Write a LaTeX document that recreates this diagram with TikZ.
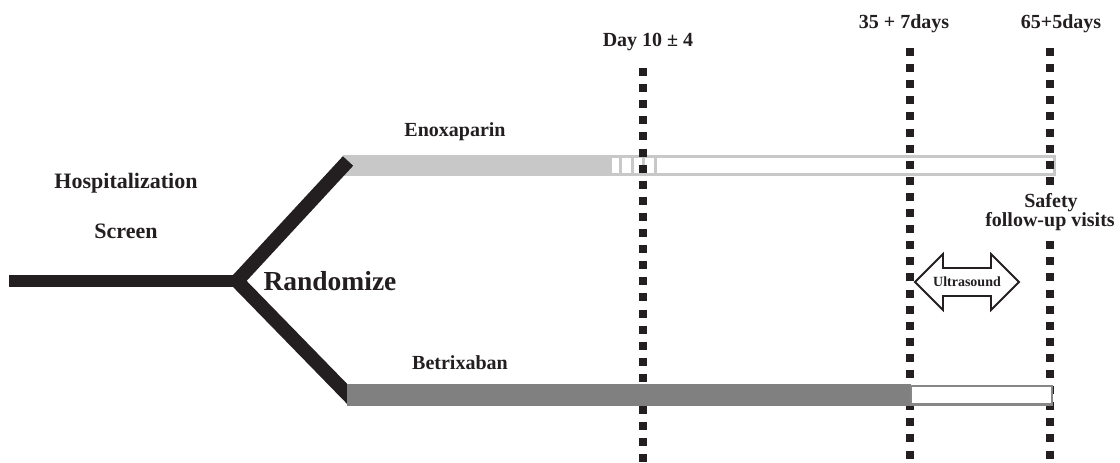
\documentclass[tikz,border=0pt]{standalone}
\usepackage{fontspec}
\setmainfont{Liberation Serif}
\definecolor{ink}{HTML}{231F20}
\definecolor{lightbar}{RGB}{200,200,200}
\definecolor{darkbar}{RGB}{128,128,128}
\definecolor{boxedge}{RGB}{135,135,135}
\tikzset{
  lbl/.style={anchor=base, inner sep=0pt, text=ink, font=\bfseries\fontsize{20}{22}\selectfont},
  biglbl/.style={lbl, font=\bfseries\fontsize{22}{24}\selectfont},
  trunk/.style={draw=ink, line width=12pt},
  branch/.style={draw=ink, line width=14pt, line join=miter},
  dotline/.style={draw=ink, line width=8pt, dash pattern=on 8pt off 8.1pt},
  usarrow/.style={draw=ink, fill=white, line width=1.8pt, line join=miter}
}
\begin{document}
\begin{tikzpicture}[x=1pt, y=-1pt]
\useasboundingbox (0,0) rectangle (1120,463);
% key points
\coordinate (start) at (9,281);
\coordinate (fork) at (237,281);
\coordinate (upEnd) at (348,161);
\coordinate (loEnd) at (356,403);

% upper bar (enoxaparin)
\fill[lightbar] (343,155) rectangle (610,176);
\draw[lightbar, line width=3.5pt, fill=white] (610.5,156.5) rectangle (1054.5,174.5);
\foreach \xx in {620.5,632,643.5,655}
  \draw[lightbar, line width=3pt] (\xx,156.5) -- (\xx,174.5);

% trunk and branches
\draw[trunk] (start) -- ([xshift=-4pt]fork);
\begin{scope}
  \clip (0,0) -- (420,0) -- (420,281) -- (347,281) -- (347,463) -- (0,463) -- cycle;
  \draw[branch] (upEnd) -- (fork) -- (loEnd);
\end{scope}

% dotted time lines
\coordinate (d1top) at (643,68);   \coordinate (d1bot) at (643,463);
\coordinate (d2top) at (910,48);   \coordinate (d2bot) at (910,463);
\coordinate (d3top) at (1050,48);  \coordinate (d3mid) at (1050,186);
\coordinate (d3low) at (1050,241.2); \coordinate (d3bot) at (1050,463);
\draw[dotline] (d1top) -- (d1bot);
\draw[dotline] (d2top) -- (d2bot);
\draw[dotline] (d3top) -- (d3mid);
\draw[dotline] (d3low) -- (d3bot);

% lower bar (betrixaban)
\fill[darkbar] (347,384) rectangle (911,405.5);
\draw[boxedge, line width=2.5pt, fill=white] (911,386) rectangle (1052,404.5);

% ultrasound double arrow
\draw[usarrow] (915,282) -- (943,254) -- (943,268) -- (991,268) -- (991,254)
  -- (1019,282) -- (991,310) -- (991,296) -- (943,296) -- (943,310) -- cycle;
\node[anchor=center, inner sep=0pt, text=ink, font=\bfseries\fontsize{14}{16}\selectfont] (us) at (967,282) {Ultrasound};

% labels
\node[biglbl] (hosp) at (126,188) {Hospitalization};
\node[biglbl] (scr) at (126,238) {Screen};
\node[lbl, font=\bfseries\fontsize{27.5}{30}\selectfont] (rand) at (330,290) {Randomize};
\node[lbl] (enox) at (455,136) {Enoxaparin};
\node[lbl] (betr) at (460,369) {Betrixaban};
\node[lbl] (day10) at (648,46) {Day 10 ± 4};
\node[lbl] (d35) at (904,28) {35 + 7days};
\node[lbl] (d65) at (1061,28) {65+5days};
\node[lbl] (safe1) at (1051,207) {Safety};
\node[lbl] (safe2) at (1050,226) {follow-up visits};
\end{tikzpicture}
\end{document}
